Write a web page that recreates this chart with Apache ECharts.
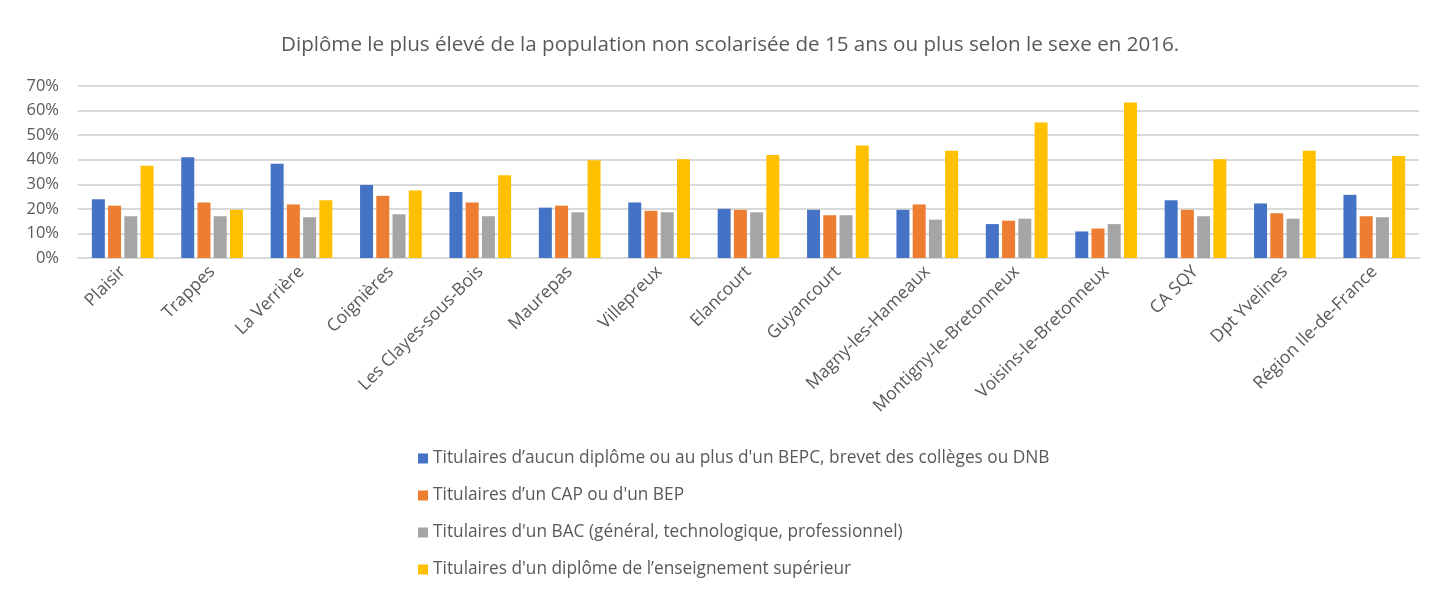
<!DOCTYPE html>
<html>
<head>
<meta charset="utf-8">
<title>Diplôme le plus élevé</title>
<script src="https://cdn.jsdelivr.net/npm/echarts@6/dist/echarts.min.js"></script>
<style>
  html, body { margin: 0; padding: 0; background: #fff; }
  #chart { width: 1434px; height: 589px; }
</style>
</head>
<body>
<div id="chart"></div>
<script>
// communes / territoires
var communes = ['Plaisir', 'Trappes', 'La Verrière', 'Coignières', 'Les Clayes-sous-Bois', 'Maurepas',
  'Villepreux', 'Elancourt', 'Guyancourt', 'Magny-les-Hameaux', 'Montigny-le-Bretonneux',
  'Voisins-le-Bretonneux', 'CA SQY', 'Dpt Yvelines', 'Région Ile-de-France'];

// valeurs en %
var aucunDiplome = [23.9, 41.0, 38.4, 29.7, 26.9, 20.5, 22.6, 20.0, 19.6, 19.6, 13.8, 10.8, 23.5, 22.2, 25.7];
var capBep = [21.3, 22.6, 21.8, 25.3, 22.6, 21.3, 19.2, 19.6, 17.4, 21.8, 15.2, 12.0, 19.6, 18.2, 17.0];
var bac = [17.0, 17.0, 16.6, 17.8, 17.0, 18.6, 18.6, 18.6, 17.4, 15.6, 16.0, 13.8, 17.0, 16.0, 16.6];
var superieur = [37.5, 19.6, 23.5, 27.5, 33.7, 39.8, 40.2, 41.9, 45.8, 43.6, 55.1, 63.3, 40.2, 43.6, 41.5];

var nomsSeries = [
  'Titulaires d\u2019aucun diplôme ou au plus d\'un BEPC, brevet des collèges ou DNB',
  'Titulaires d\u2019un CAP ou d\'un BEP',
  'Titulaires d\'un BAC (général, technologique, professionnel)',
  'Titulaires d\'un diplôme de l\u2019enseignement supérieur'
];
var couleurs = ['#4472C4', '#ED7D31', '#A5A5A5', '#FFC000'];
var valeurs = [aucunDiplome, capBep, bac, superieur];

var yTicks = [0, 10, 20, 30, 40, 50, 60, 70];

var dom = document.getElementById('chart');
var myChart = echarts.init(dom);

var series = [];
for (var i = 0; i < valeurs.length; i++) {
  series.push({
    name: nomsSeries[i],
    type: 'bar',
    data: valeurs[i],
    barGap: '25%',
    barCategoryGap: '31%',
    itemStyle: { color: couleurs[i] }
  });
}

var option = {
  animation: false,
  backgroundColor: '#fff',
  textStyle: { fontFamily: 'Open Sans' },
  title: {
    text: 'Diplôme le plus élevé de la population non scolarisée de 15 ans ou plus selon le sexe en 2016.',
    left: 276,
    top: 30,
    textStyle: { fontFamily: 'Open Sans', fontSize: 20.6, fontWeight: 'normal', color: '#595959' }
  },
  legend: {
    orient: 'vertical',
    left: 413,
    top: 445,
    itemWidth: 10,
    itemHeight: 10,
    itemGap: 20,
    icon: 'rect',
    textStyle: { fontFamily: 'Open Sans', fontSize: 17.3, color: '#595959' },
    data: nomsSeries
  },
  grid: { left: 78, right: 15, top: 86, bottom: 331 },
  xAxis: {
    type: 'category',
    data: communes,
    axisLine: { lineStyle: { color: '#d9d9d9', width: 2 } },
    axisTick: { show: false },
    axisLabel: {
      rotate: 45,
      interval: 0,
      margin: 11,
      fontFamily: 'Open Sans',
      fontSize: 17.5,
      color: '#595959'
    }
  },
  yAxis: {
    type: 'value',
    min: yTicks[0],
    max: yTicks[yTicks.length - 1],
    interval: 10,
    axisLine: { show: false },
    axisTick: { show: false },
    splitLine: { lineStyle: { color: '#d9d9d9', width: 2 } },
    axisLabel: {
      formatter: '{value}%',
      margin: 19,
      fontFamily: 'Open Sans',
      fontSize: 16.5,
      color: '#595959'
    }
  },
  series: series
};

myChart.setOption(option);
</script>
</body>
</html>
